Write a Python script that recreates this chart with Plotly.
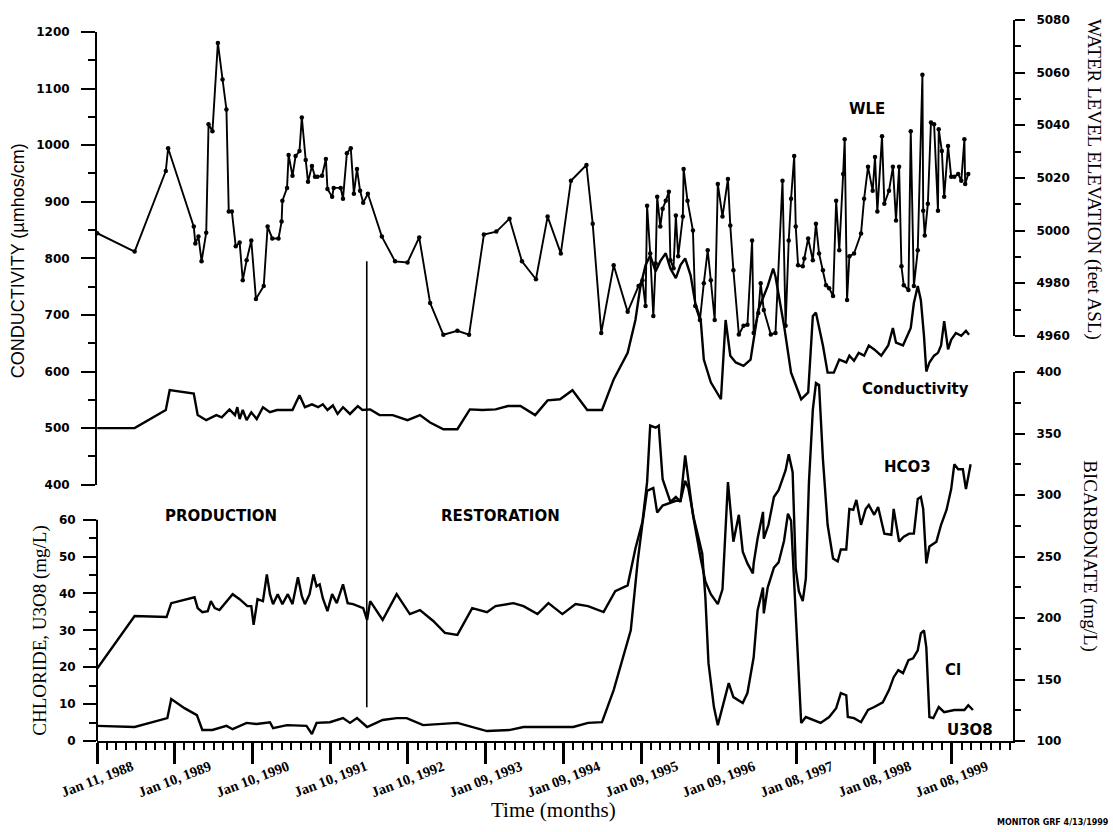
import plotly.graph_objects as go
from datetime import datetime, timedelta

# ---------------- monitor well record (decimal year, value) ----------------
# Water level elevation, feet above sea level
wle_year = [
    1988.03, 1988.51, 1988.91, 1988.94, 1989.27, 1989.29, 1989.33, 1989.37, 1989.43, 1989.46,
    1989.51, 1989.58, 1989.64, 1989.69, 1989.72, 1989.76, 1989.81, 1989.86, 1989.90, 1989.95,
    1990.01, 1990.07, 1990.17, 1990.22, 1990.28, 1990.36, 1990.40, 1990.41, 1990.47, 1990.49,
    1990.54, 1990.58, 1990.63, 1990.66, 1990.71, 1990.74, 1990.79, 1990.83, 1990.86, 1990.92,
    1990.97, 1990.99, 1991.05, 1991.07, 1991.16, 1991.19, 1991.24, 1991.29, 1991.33, 1991.37,
    1991.41, 1991.45, 1991.51, 1991.69, 1991.86, 1992.02, 1992.17, 1992.31, 1992.48, 1992.66,
    1992.81, 1993.00, 1993.16, 1993.33, 1993.49, 1993.67, 1993.82, 1993.99, 1994.12, 1994.32,
    1994.40, 1994.51, 1994.67, 1994.85, 1994.99, 1995.04, 1995.08, 1995.10, 1995.14, 1995.18,
    1995.21, 1995.23, 1995.27, 1995.30, 1995.34, 1995.38, 1995.40, 1995.44, 1995.47, 1995.50,
    1995.56, 1995.57, 1995.62, 1995.69, 1995.72, 1995.78, 1995.83, 1995.88, 1995.92, 1995.97,
    1996.01, 1996.07, 1996.14, 1996.17, 1996.21, 1996.28, 1996.34, 1996.39, 1996.45, 1996.47,
    1996.53, 1996.56, 1996.60, 1996.69, 1996.75, 1996.84, 1996.88, 1996.92, 1996.95, 1996.99,
    1997.01, 1997.04, 1997.10, 1997.12, 1997.17, 1997.23, 1997.27, 1997.31, 1997.36, 1997.40,
    1997.44, 1997.49, 1997.53, 1997.57, 1997.62, 1997.64, 1997.67, 1997.70, 1997.76, 1997.85,
    1997.89, 1997.94, 1998.00, 1998.03, 1998.06, 1998.12, 1998.15, 1998.21, 1998.26, 1998.30,
    1998.34, 1998.37, 1998.40, 1998.46, 1998.49, 1998.53, 1998.58, 1998.64, 1998.65, 1998.67,
    1998.71, 1998.75, 1998.79, 1998.84, 1998.85, 1998.89, 1998.92, 1998.97, 1999.01, 1999.05,
    1999.10, 1999.14, 1999.18, 1999.19, 1999.23,
]
wle_ft = [
    4999.0, 4992.0, 5022.6, 5031.3, 5001.5, 4995.1, 4997.7, 4988.3, 4999.2, 5040.4,
    5037.7, 5071.3, 5057.4, 5046.0, 5007.2, 5007.2, 4994.0, 4995.5, 4981.1, 4988.7,
    4996.2, 4974.0, 4978.9, 5001.5, 4997.0, 4997.0, 5003.4, 5011.3, 5016.2, 5028.7,
    5020.8, 5028.3, 5030.2, 5043.0, 5026.8, 5018.5, 5024.5, 5020.4, 5020.4, 5020.8,
    5027.2, 5015.8, 5012.8, 5016.2, 5016.2, 5012.1, 5029.4, 5031.3, 5014.0, 5023.4,
    5015.1, 5010.6, 5014.0, 4997.7, 4988.3, 4987.9, 4997.4, 4972.5, 4960.4, 4961.9,
    4960.4, 4998.5, 4999.6, 5004.5, 4988.3, 4981.5, 5005.3, 4991.3, 5018.9, 5024.9,
    5002.6, 4961.1, 4986.8, 4969.1, 4978.9, 4981.1, 4971.3, 5009.4, 4991.3, 4967.5,
    4987.5, 5012.8, 5001.5, 5008.3, 5011.3, 5014.7, 4988.7, 4985.7, 5005.7, 4990.2,
    5005.3, 5023.4, 5011.3, 5000.0, 4971.3, 4966.0, 4980.0, 4992.5, 4981.1, 4966.0,
    5017.7, 5005.3, 5019.6, 5001.9, 4984.9, 4960.5, 4963.8, 4964.2, 4996.2, 4961.1,
    4968.7, 4980.0, 4969.8, 4960.5, 4961.1, 5018.9, 4963.8, 4996.2, 5012.1, 5028.3,
    5001.5, 4986.8, 4986.4, 4989.4, 4997.0, 4988.7, 5002.6, 4991.3, 4984.9, 4979.2,
    4978.1, 4975.1, 5011.3, 4992.5, 5021.5, 5034.7, 4973.6, 4990.2, 4991.3, 4998.9,
    5012.1, 5024.2, 5015.1, 5027.9, 5007.2, 5035.8, 5010.2, 5015.1, 5024.2, 5003.8,
    5024.2, 4986.4, 4979.2, 4977.4, 5037.7, 4978.9, 4992.5, 5059.2, 5007.5, 4998.1,
    5010.2, 5041.1, 5040.4, 5007.5, 5038.5, 5030.2, 5012.8, 5032.1, 5020.4, 5020.4,
    5021.5, 5018.9, 5034.7, 5017.7, 5021.5,
]

# Specific conductance, umhos/cm
cond_year = [
    1988.03, 1988.51, 1988.91, 1988.96, 1989.27, 1989.32, 1989.43, 1989.56, 1989.63, 1989.73,
    1989.80, 1989.83, 1989.86, 1989.90, 1989.95, 1990.01, 1990.08, 1990.16, 1990.25, 1990.34,
    1990.47, 1990.54, 1990.63, 1990.70, 1990.79, 1990.87, 1990.93, 1990.99, 1991.06, 1991.12,
    1991.19, 1991.28, 1991.38, 1991.44, 1991.54, 1991.66, 1991.83, 1992.02, 1992.18, 1992.31,
    1992.48, 1992.66, 1992.82, 1992.98, 1993.15, 1993.31, 1993.47, 1993.66, 1993.82, 1993.98,
    1994.14, 1994.33, 1994.52, 1994.67, 1994.85, 1994.95, 1995.01, 1995.08, 1995.14, 1995.21,
    1995.27, 1995.34, 1995.40, 1995.47, 1995.53, 1995.59, 1995.66, 1995.72, 1995.79, 1995.83,
    1995.92, 1996.05, 1996.11, 1996.17, 1996.24, 1996.34, 1996.43, 1996.47, 1996.53, 1996.65,
    1996.72, 1996.75, 1996.86, 1996.95, 1997.08, 1997.17, 1997.23, 1997.27, 1997.36, 1997.42,
    1997.50, 1997.57, 1997.66, 1997.70, 1997.76, 1997.82, 1997.89, 1997.95, 1998.02, 1998.11,
    1998.20, 1998.26, 1998.30, 1998.39, 1998.46, 1998.49, 1998.53, 1998.58, 1998.62, 1998.66,
    1998.69, 1998.73, 1998.79, 1998.84, 1998.88, 1998.92, 1998.97, 1999.01, 1999.07, 1999.14,
    1999.20, 1999.24,
]
cond_umhos = [
    500, 500, 532, 567, 561, 523, 514, 523, 519, 533,
    523, 537, 516, 532, 514, 528, 516, 537, 528, 532,
    532, 532, 558, 537, 542, 537, 542, 532, 540, 525,
    537, 525, 539, 532, 533, 523, 523, 514, 523, 510,
    498, 498, 533, 532, 533, 539, 539, 523, 549, 551,
    567, 532, 532, 586, 633, 691, 747, 788, 805, 777,
    795, 809, 782, 765, 788, 800, 770, 721, 691, 621,
    581, 551, 691, 628, 616, 610, 621, 656, 709, 751,
    782, 768, 681, 598, 551, 563, 698, 704, 646, 598,
    598, 621, 616, 628, 619, 633, 628, 646, 639, 628,
    646, 677, 651, 646, 668, 677, 721, 751, 726, 663,
    600, 616, 628, 633, 646, 689, 639, 656, 668, 663,
    672, 665,
]

# Bicarbonate, mg/L
hco3_year = [
    1988.03, 1988.51, 1988.92, 1988.98, 1989.28, 1989.32, 1989.38, 1989.45, 1989.49, 1989.54,
    1989.60, 1989.69, 1989.77, 1989.86, 1989.96, 1990.01, 1990.04, 1990.09, 1990.16, 1990.21,
    1990.25, 1990.29, 1990.35, 1990.41, 1990.48, 1990.54, 1990.61, 1990.66, 1990.70, 1990.76,
    1990.81, 1990.85, 1990.89, 1990.93, 1990.99, 1991.05, 1991.11, 1991.19, 1991.25, 1991.32,
    1991.45, 1991.50, 1991.54, 1991.70, 1991.88, 1992.05, 1992.18, 1992.35, 1992.50, 1992.66,
    1992.85, 1993.04, 1993.15, 1993.38, 1993.51, 1993.69, 1993.83, 1994.01, 1994.18, 1994.34,
    1994.54, 1994.69, 1994.85, 1994.95, 1995.04, 1995.10, 1995.14, 1995.21, 1995.25, 1995.30,
    1995.40, 1995.47, 1995.53, 1995.59, 1995.69, 1995.79, 1995.85, 1995.92, 1996.01, 1996.07,
    1996.14, 1996.21, 1996.28, 1996.33, 1996.39, 1996.46, 1996.47, 1996.52, 1996.59, 1996.60,
    1996.66, 1996.73, 1996.79, 1996.84, 1996.88, 1996.92, 1996.97, 1997.01, 1997.05, 1997.10,
    1997.14, 1997.18, 1997.23, 1997.27, 1997.31, 1997.36, 1997.42, 1997.49, 1997.55, 1997.59,
    1997.66, 1997.70, 1997.75, 1997.79, 1997.85, 1997.91, 1997.95, 1998.02, 1998.07, 1998.15,
    1998.24, 1998.27, 1998.34, 1998.40, 1998.47, 1998.53, 1998.58, 1998.62, 1998.65, 1998.69,
    1998.73, 1998.82, 1998.88, 1998.95, 1999.01, 1999.05, 1999.10, 1999.16, 1999.20, 1999.26,
]
hco3_mgl = [
    158.9, 201.6, 200.8, 212.1, 216.9, 208.1, 204.8, 205.6, 213.7, 208.1,
    206.5, 213.7, 219.4, 215.3, 209.7, 209.7, 194.4, 215.3, 213.7, 235.5,
    219.4, 211.3, 219.4, 211.3, 219.4, 211.3, 233.1, 217.7, 211.3, 219.4,
    235.5, 225.8, 227.4, 216.1, 205.6, 219.4, 212.1, 227.4, 212.1, 211.3,
    208.1, 198.4, 213.7, 198.4, 219.4, 203.2, 206.5, 197.6, 187.9, 186.3,
    208.1, 204.8, 209.7, 212.1, 209.7, 203.2, 212.1, 203.2, 211.3, 209.7,
    204.8, 221.8, 226.6, 256.5, 278.2, 310.5, 356.5, 354.8, 356.5, 312.9,
    294.4, 298.4, 294.4, 332.3, 283.9, 248.4, 229.8, 219.4, 211.3, 223.4,
    310.5, 262.1, 283.9, 254.0, 244.4, 236.3, 244.4, 264.5, 286.3, 264.5,
    275.8, 298.4, 304.0, 312.9, 320.2, 333.1, 318.6, 240.3, 221.8, 213.7,
    232.3, 310.5, 369.4, 391.1, 389.5, 329.0, 275.8, 248.4, 246.0, 255.7,
    255.7, 288.7, 287.9, 296.0, 275.8, 288.7, 291.9, 283.9, 290.3, 268.6,
    267.7, 288.7, 262.1, 266.1, 268.6, 268.6, 296.8, 298.4, 288.7, 244.4,
    258.1, 262.1, 275.8, 287.9, 304.8, 325.0, 321.0, 321.0, 304.8, 325.0,
]

# Chloride, mg/L
cl_year = [
    1988.03, 1988.51, 1988.74, 1988.93, 1988.98, 1989.15, 1989.31, 1989.38, 1989.51, 1989.69,
    1989.77, 1989.95, 1990.08, 1990.25, 1990.29, 1990.47, 1990.72, 1990.79, 1990.85, 1991.02,
    1991.19, 1991.28, 1991.37, 1991.50, 1991.70, 1991.88, 1992.01, 1992.22, 1992.66, 1993.04,
    1993.34, 1993.51, 1994.15, 1994.34, 1994.52, 1994.67, 1994.89, 1994.98, 1995.04, 1995.10,
    1995.18, 1995.23, 1995.30, 1995.40, 1995.47, 1995.53, 1995.59, 1995.63, 1995.70, 1995.81,
    1995.85, 1995.89, 1995.96, 1996.01, 1996.08, 1996.15, 1996.21, 1996.33, 1996.39, 1996.47,
    1996.52, 1996.59, 1996.60, 1996.65, 1996.73, 1996.79, 1996.86, 1996.91, 1996.95, 1997.01,
    1997.05, 1997.08, 1997.14, 1997.24, 1997.33, 1997.44, 1997.53, 1997.59, 1997.66, 1997.68,
    1997.76, 1997.85, 1997.94, 1998.02, 1998.13, 1998.21, 1998.27, 1998.33, 1998.39, 1998.46,
    1998.52, 1998.58, 1998.62, 1998.66, 1998.69, 1998.73, 1998.78, 1998.85, 1998.92, 1999.05,
    1999.18, 1999.23, 1999.29,
]
cl_mgl = [
    4.1, 3.8, 5.1, 6.2, 11.4, 8.9, 7.0, 3.0, 3.0, 4.1,
    3.2, 4.9, 4.6, 5.1, 3.5, 4.3, 4.1, 1.9, 4.9, 5.1,
    6.2, 4.9, 6.2, 3.8, 5.7, 6.2, 6.2, 4.3, 4.9, 2.7,
    3.0, 3.8, 3.8, 4.9, 5.1, 13.8, 30.0, 48.9, 58.9, 67.8,
    68.6, 61.9, 63.8, 64.6, 65.1, 65.1, 70.5, 68.6, 60.5, 50.8,
    38.9, 21.1, 9.2, 4.3, 10.3, 15.7, 11.9, 10.3, 13.0, 22.7,
    35.4, 41.6, 34.6, 41.6, 47.0, 48.4, 54.3, 61.6, 59.7, 34.6,
    14.6, 4.9, 6.5, 5.7, 4.9, 6.5, 8.9, 13.0, 12.4, 6.5,
    6.2, 5.1, 8.4, 9.2, 10.5, 13.8, 17.3, 19.2, 18.4, 21.9,
    22.4, 24.6, 29.2, 30.0, 25.4, 6.5, 6.2, 9.2, 7.8, 8.4,
    8.4, 9.7, 8.4,
]

# Annual date ticks along the time axis
year_tick_dates = [
    "1988-01-11", "1989-01-10", "1990-01-10", "1991-01-10", "1992-01-10", "1993-01-09",
    "1994-01-09", "1995-01-09", "1996-01-09", "1997-01-08", "1998-01-08", "1999-01-08",
]
year_tick_labels = [
    "Jan 11, 1988", "Jan 10, 1989", "Jan 10, 1990", "Jan 10, 1991", "Jan 10, 1992",
    "Jan 09, 1993", "Jan 09, 1994", "Jan 09, 1995", "Jan 09, 1996", "Jan 08, 1997",
    "Jan 08, 1998", "Jan 08, 1999",
]
cond_ticks = [400, 500, 600, 700, 800, 900, 1000, 1100, 1200]
wle_ticks = [4960, 4980, 5000, 5020, 5040, 5060, 5080]
hco3_ticks = [100, 150, 200, 250, 300, 350, 400]
cl_ticks = [0, 10, 20, 30, 40, 50, 60]

restoration_start = "1991-07-01"
time_start, time_end = "1988-01-11", "1999-10-22"


def to_date(dec_year):
    year = int(dec_year)
    start = datetime(year, 1, 1)
    length = (datetime(year + 1, 1, 1) - start).days
    return start + timedelta(days=(dec_year - year) * length)


# ---------------- figure geometry ----------------
W, H = 1113, 832
ML, MR, MT, MB = 97, 100, 14, 91
PW, PH = W - ML - MR, H - MT - MB


def paper(xp, yp):
    """pixel position on the page -> paper coordinates"""
    return (xp - ML) / PW, (H - MB - yp) / PH


INK = "black"
tick_font = dict(family="DejaVu Sans", size=12, color=INK, weight="bold")
serif = "Liberation Serif"
label_font = dict(family="DejaVu Sans", size=15, color=INK, weight="bold")

fig = go.Figure()
fig.add_trace(go.Scatter(
    x=[to_date(v) for v in wle_year], y=wle_ft, yaxis="y2", mode="lines+markers",
    line=dict(color=INK, width=1.9), marker=dict(size=4.5, color=INK),
    cliponaxis=False, name="WLE", showlegend=False))
fig.add_trace(go.Scatter(
    x=[to_date(v) for v in cond_year], y=cond_umhos, yaxis="y", mode="lines",
    line=dict(color=INK, width=2.4), name="Conductivity", showlegend=False))
fig.add_trace(go.Scatter(
    x=[to_date(v) for v in hco3_year], y=hco3_mgl, yaxis="y4", mode="lines",
    line=dict(color=INK, width=2.4), name="HCO3", showlegend=False))
fig.add_trace(go.Scatter(
    x=[to_date(v) for v in cl_year], y=cl_mgl, yaxis="y3", mode="lines",
    line=dict(color=INK, width=2.4), name="Cl", showlegend=False))

axis_common = dict(showline=True, linecolor=INK, linewidth=2, ticks="outside",
                   tickcolor=INK, tickwidth=2, showgrid=False, zeroline=False,
                   tickfont=tick_font)

fig.update_layout(
    width=W, height=H,
    margin=dict(l=ML, r=MR, t=MT, b=MB, pad=0),
    paper_bgcolor="white", plot_bgcolor="rgba(0,0,0,0)",
    showlegend=False,
    xaxis=dict(
        type="date", range=[time_start, time_end], anchor="y4",
        showline=True, linecolor=INK, linewidth=2, showgrid=False, zeroline=False,
        ticks="outside", ticklen=21, tickwidth=2.5, tickcolor=INK,
        tickmode="array", tickvals=year_tick_dates, showticklabels=False,
        minor=dict(ticks="outside", ticklen=7, tickwidth=2, tickcolor=INK,
                   tick0=time_start, dtick=365 / 8 * 86400000),
    ),
    yaxis=dict(
        domain=[0.355, 0.982], range=[400, 1200], anchor="x", side="left",
        tickmode="array", tickvals=cond_ticks, ticklen=14, ticklabelstandoff=9,
        minor=dict(ticks="outside", ticklen=7, tickwidth=2, tickcolor=INK,
                   tick0=400, dtick=50),
        **axis_common,
    ),
    yaxis2=dict(
        domain=[0.5612, 0.9986], range=[4960, 5080], anchor="x", side="right",
        tickmode="array", tickvals=wle_ticks, ticklen=10, ticklabelstandoff=9,
        minor=dict(ticks="outside", ticklen=6, tickwidth=2, tickcolor=INK,
                   tick0=4960, dtick=10),
        **axis_common,
    ),
    yaxis4=dict(
        domain=[0, 0.511], range=[100, 400], anchor="x", side="right",
        tickmode="array", tickvals=hco3_ticks, ticklen=10, ticklabelstandoff=9,
        minor=dict(ticks="outside", ticklen=6, tickwidth=2, tickcolor=INK,
                   tick0=100, dtick=25),
        **axis_common,
    ),
    yaxis3=dict(
        overlaying="y4", range=[0, 100], anchor="x", side="left",
        showline=False, showgrid=False, zeroline=False,
        ticks="outside", ticklen=13, tickwidth=2, tickcolor=INK,
        tickmode="array", tickvals=cl_ticks, ticklabelstandoff=5, tickfont=tick_font,
        minor=dict(ticks="outside", ticklen=7, tickwidth=2, tickcolor=INK,
                   tickmode="array", tickvals=[5, 15, 25, 35, 45, 55]),
    ),
)

# chloride scale spine only spans its labelled range
fig.add_shape(type="line", xref="paper", yref="y3", x0=0, x1=0, y0=0, y1=60,
              line=dict(color=INK, width=2))
# production / restoration boundary
sep_lo = paper(0, 707)[1]
sep_hi = paper(0, 258)[1]
fig.add_shape(type="line", xref="x", yref="paper", x0=restoration_start, x1=restoration_start,
              y0=sep_lo, y1=sep_hi, line=dict(color=INK, width=1.6))

# slanted date labels, centred under each annual tick
date_font = dict(family=serif, size=14.5, color=INK, weight="bold")
label_row = paper(0, 779)[1]
for when, text in zip(year_tick_dates, year_tick_labels):
    fig.add_annotation(text=text, x=when, xref="x", y=label_row, yref="paper",
                       showarrow=False, textangle=-21, font=date_font,
                       xanchor="center", yanchor="middle")


def note(text, xp, yp, font, angle=0, xanchor="center"):
    x, y = paper(xp, yp)
    fig.add_annotation(text=text, x=x, y=y, xref="paper", yref="paper",
                       showarrow=False, textangle=angle, font=font,
                       xanchor=xanchor, yanchor="middle")


note("PRODUCTION", 221, 514, label_font)
note("RESTORATION", 500, 514, label_font)
note("WLE", 867, 105, label_font)
note("Conductivity", 915, 387, label_font)
note("HCO3", 907, 465, label_font)
note("Cl", 953, 670, label_font)
note("U3O8", 970, 730, label_font)

note("CONDUCTIVITY (µmhos/cm)", 18, 258,
     dict(family="Liberation Sans", size=18, color=INK), angle=-90)
note("CHLORIDE, U3O8 (mg/L)", 40, 630, dict(family=serif, size=19, color=INK), angle=-90)
note("WATER LEVEL ELEVATION (feet ASL)", 1094, 175, dict(family=serif, size=19, color=INK), angle=90)
note("BICARBONATE (mg/L)", 1090, 555, dict(family=serif, size=19, color=INK), angle=90)
note("Time (months)", 553, 810, dict(family=serif, size=21, color=INK))
note("MONITOR GRF 4/13/1999", 1111, 823,
     dict(family="DejaVu Sans", size=8, color=INK, weight="bold"), xanchor="right")

fig.write_html("out.html")
